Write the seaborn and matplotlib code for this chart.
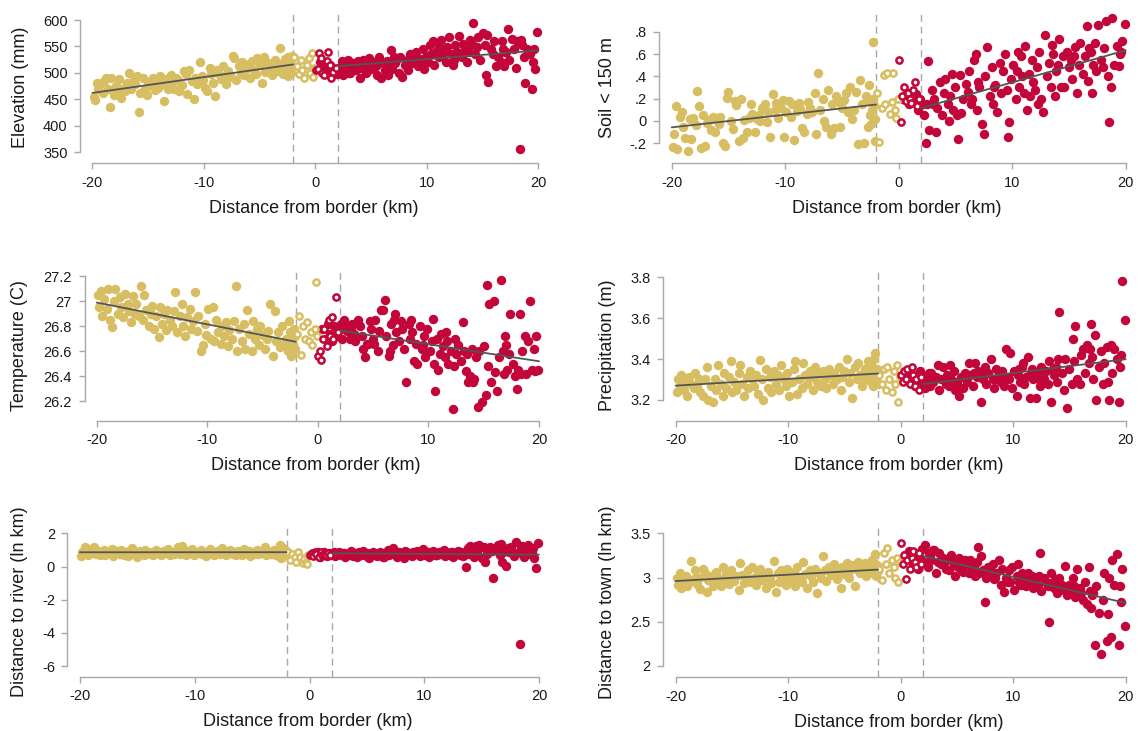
import numpy as np
import pandas as pd
import matplotlib
matplotlib.use("Agg")
import matplotlib.pyplot as plt
import seaborn as sns

# ---------------- data ----------------
# distance from border (km), shared by all panels
X_YEL = [
    -19.9, -19.8, -19.6, -19.5, -19.3, -19.1, -19.0, -18.8, -18.6, -18.4,
    -18.3, -18.1, -17.9, -17.8, -17.6, -17.4, -17.2, -17.1, -16.9, -16.7,
    -16.5, -16.4, -16.2, -16.0, -15.8, -15.7, -15.5, -15.3, -15.1, -15.0,
    -14.8, -14.6, -14.4, -14.3, -14.1, -13.9, -13.7, -13.6, -13.4, -13.2,
    -13.0, -12.9, -12.7, -12.5, -12.3, -12.2, -12.0, -11.8, -11.6, -11.5,
    -11.3, -11.1, -10.9, -10.8, -10.6, -10.4, -10.2, -10.1, -9.9, -9.7,
    -9.5, -9.4, -9.2, -9.0, -8.8, -8.7, -8.5, -8.3, -8.1, -8.0,
    -7.8, -7.6, -7.4, -7.3, -7.1, -6.9, -6.7, -6.6, -6.4, -6.2,
    -6.0, -5.9, -5.7, -5.5, -5.3, -5.2, -5.0, -4.8, -4.6, -4.5,
    -4.3, -4.1, -3.9, -3.8, -3.6, -3.4, -3.2, -3.1, -2.9, -2.7,
    -2.6, -2.55, -2.5, -2.45, -2.35, -2.3, -2.25, -2.15, -2.1, -2.05,
]
X_RED = [
    0.4, 0.7, 0.9, 1.1, 1.3, 1.5, 1.7, 1.9, 2.1, 2.2,
    2.4, 2.6, 2.7, 2.9, 3.1, 3.3, 3.4, 3.6, 3.8, 4.0,
    4.1, 4.3, 4.5, 4.7, 4.8, 5.0, 5.2, 5.4, 5.5, 5.7,
    5.9, 6.1, 6.2, 6.4, 6.6, 6.8, 6.9, 7.1, 7.3, 7.5,
    7.6, 7.8, 8.0, 8.2, 8.3, 8.5, 8.7, 8.9, 9.0, 9.2,
    9.4, 9.6, 9.7, 9.9, 10.1, 10.3, 10.4, 10.6, 10.8, 11.0,
    11.1, 11.3, 11.5, 11.7, 11.8, 12.0, 12.2, 12.4, 12.5, 12.7,
    12.9, 13.1, 13.2, 13.4, 13.6, 13.8, 13.9, 14.1, 14.3, 14.5,
    14.6, 14.8, 15.0, 15.2, 15.3, 15.5, 15.7, 15.9, 16.0, 16.2,
    16.4, 16.6, 16.7, 16.9, 17.1, 17.3, 17.4, 17.6, 17.8, 18.0,
    18.1, 18.3, 18.5, 18.7, 18.8, 19.0, 19.2, 19.4, 19.5, 19.7,
    19.9, 3.0, 5.1, 7.0, 9.5, 10.9, 12.3, 13.5, 15.4, 17.0,
    18.4, 19.6, 8.4, 10.5, 11.6, 14.0, 16.8, 6.5, 4.4, 2.5,
]
X_YEL_OPEN = [-1.9, -1.7, -1.5, -1.3, -1.2, -1.0, -0.8, -0.6, -0.5, -0.3, -0.2, -0.1]
X_RED_OPEN = [0.05, 0.2, 0.3, 0.5, 0.6, 0.8, 1.0, 1.1, 1.3, 1.4, 1.6, 1.8]

# Elevation (mm)
ELEV_YEL = [
    454, 448, 480, 470, 478, 462, 484, 490, 470, 436,
    490, 458, 475, 466, 488, 452, 472, 465, 480, 500,
    470, 485, 478, 494, 426, 462, 490, 470, 458, 482,
    476, 490, 468, 482, 472, 494, 478, 446, 488, 470,
    495, 482, 470, 490, 486, 466, 476, 503, 498, 460,
    505, 484, 450, 490, 478, 520, 494, 486, 472, 465,
    510, 498, 480, 456, 506, 500, 488, 512, 494, 478,
    504, 492, 532, 528, 486, 512, 500, 520, 496, 508,
    516, 490, 522, 506, 498, 528, 514, 480, 530, 502,
    518, 508, 496, 512, 524, 504, 547, 516, 498, 526,
    520, 510, 494, 530, 502, 518, 508, 500, 532, 512,
]
ELEV_RED = [
    520, 512, 498, 505, 515, 500, 508, 498, 510, 503,
    522, 515, 508, 525, 500, 512, 518, 505, 522, 490,
    510, 525, 500, 516, 528, 508, 520, 512, 495, 530,
    490, 518, 505, 523, 512, 543, 508, 518, 526, 500,
    530, 492, 514, 524, 506, 535, 518, 528, 540, 512,
    526, 545, 508, 530, 520, 552, 536, 515, 540, 555,
    530, 562, 545, 520, 548, 568, 535, 525, 552, 540,
    570, 530, 555, 545, 520, 540, 562, 595, 535, 548,
    568, 525, 575, 552, 495, 483, 545, 535, 560, 512,
    530, 520, 560, 512, 540, 583, 525, 565, 545, 510,
    560, 355, 552, 530, 480, 545, 535, 469, 520, 508,
    577, 500, 514, 530, 520, 534, 515, 548, 572, 540,
    563, 545, 522, 560, 540, 555, 545, 495, 505, 496,
]
ELEV_YEL_OPEN = [530, 512, 498, 524, 505, 490, 515, 528, 500, 538, 492, 510]
ELEV_RED_OPEN = [505, 508, 538, 528, 500, 496, 522, 540, 514, 491, 502, 510]

# Soil < 150 m
SOIL_YEL = [
    -0.23, -0.12, 0.13, -0.25, 0.04, 0.08, -0.05, -0.15, -0.27, 0.02,
    -0.16, 0.03, -0.04, 0.27, 0.13, -0.24, 0.05, -0.22, -0.02, 0.01,
    -0.08, 0.04, -0.10, 0.02, -0.03, 0.04, -0.20, -0.22, 0.21, 0.26,
    0.00, -0.07, 0.18, 0.14, -0.18, 0.20, -0.15, 0.01, -0.10, 0.03,
    0.15, 0.06, -0.10, 0.02, 0.05, 0.00, 0.12, 0.15, -0.01, 0.08,
    -0.14, 0.24, 0.10, 0.16, 0.03, 0.12, 0.19, -0.14, 0.08, 0.18,
    0.04, 0.15, -0.17, 0.09, 0.16, 0.11, -0.06, -0.10, 0.06, 0.17,
    0.12, 0.08, 0.25, -0.12, 0.43, 0.10, 0.20, 0.00, -0.05, 0.28,
    -0.12, 0.15, -0.06, 0.22, 0.17, -0.05, 0.12, 0.19, 0.25, 0.08,
    0.30, 0.02, 0.10, 0.26, -0.21, 0.37, 0.15, -0.20, 0.22, -0.05,
    0.32, 0.18, 0.05, -0.03, 0.10, 0.20, 0.71, 0.14, 0.02, -0.18,
]
SOIL_RED = [
    0.20, 0.25, 0.15, 0.22, 0.18, 0.24, 0.10, 0.20, 0.15, 0.05,
    -0.20, 0.54, -0.08, 0.28, 0.20, -0.10, 0.12, 0.35, 0.05, 0.25,
    0.38, 0.15, 0.22, 0.42, 0.10, 0.30, -0.16, 0.41, 0.07, 0.20,
    0.33, 0.26, 0.45, 0.15, 0.55, 0.60, 0.10, 0.30, -0.03, -0.12,
    0.40, 0.66, 0.22, 0.48, 0.15, 0.32, 0.08, 0.52, 0.25, 0.45,
    0.60, -0.14, -0.01, 0.38, 0.50, 0.20, 0.45, 0.30, 0.58, 0.25,
    0.67, 0.10, 0.42, 0.55, 0.35, 0.28, 0.48, 0.62, 0.20, 0.08,
    0.77, 0.40, 0.52, 0.30, 0.60, 0.22, 0.45, 0.73, 0.30, 0.58,
    0.30, 0.62, 0.48, 0.55, 0.38, 0.66, 0.25, 0.50, 0.70, 0.42,
    0.58, 0.85, 0.36, 0.62, 0.50, 0.70, 0.45, 0.86, 0.55, 0.48,
    0.65, 0.90, -0.01, 0.30, 0.92, 0.50, 0.67, 0.49, 0.60, 0.72,
    0.87, 0.15, 0.05, 0.35, 0.28, 0.40, 0.15, 0.68, 0.58, 0.25,
    0.40, 0.62, 0.30, 0.62, 0.22, 0.50, 0.65, 0.20, 0.00, 0.15,
]
SOIL_YEL_OPEN = [0.25, -0.19, 0.12, 0.41, 0.15, 0.43, 0.06, 0.17, 0.43, 0.10, 0.03, 0.20]
SOIL_RED_OPEN = [0.55, -0.01, 0.22, 0.30, 0.18, 0.25, 0.20, 0.16, 0.28, 0.35, 0.13, 0.20]

# Temperature (C)
TEMP_YEL = [
    27.05, 26.95, 27.08, 26.88, 27.02, 26.94, 27.10, 26.85, 26.79, 27.00,
    27.10, 26.90, 27.03, 26.95, 26.87, 27.06, 26.98, 26.92, 26.83, 27.04,
    26.90, 26.98, 26.88, 27.12, 26.85, 27.05, 26.93, 26.80, 26.90, 26.96,
    26.78, 26.88, 26.71, 26.95, 26.82, 26.90, 26.77, 26.93, 26.85, 26.80,
    26.92, 27.07, 26.75, 26.88, 26.98, 26.80, 26.72, 26.87, 26.94, 26.78,
    26.84, 27.07, 26.76, 26.88, 26.60, 26.65, 26.82, 26.73, 26.94, 26.70,
    26.95, 26.68, 26.85, 26.75, 26.66, 26.80, 26.72, 26.83, 26.64, 26.77,
    26.70, 26.84, 27.12, 26.60, 26.78, 26.68, 26.82, 26.62, 26.93, 26.74,
    26.60, 26.84, 26.70, 26.78, 26.65, 26.80, 26.73, 26.62, 26.70, 26.76,
    26.98, 26.56, 26.92, 26.68, 26.75, 26.63, 26.80, 26.66, 26.70, 26.60,
    26.84, 26.62, 26.75, 26.56, 26.70, 26.57, 26.66, 26.78, 26.62, 26.72,
]
TEMP_RED = [
    26.78, 26.70, 26.82, 26.74, 26.68, 26.80, 26.72, 26.77, 26.82, 26.70,
    26.85, 26.76, 26.80, 26.70, 26.82, 26.74, 26.68, 26.85, 26.80, 26.72,
    26.62, 26.55, 26.66, 26.84, 26.78, 26.70, 26.85, 26.60, 26.76, 26.93,
    26.93, 27.01, 26.72, 26.56, 26.82, 26.65, 26.85, 26.75, 26.68, 26.84,
    26.78, 26.62, 26.35, 26.82, 26.70, 26.75, 26.52, 26.66, 26.50, 26.80,
    26.62, 26.72, 26.55, 26.78, 26.60, 26.68, 26.86, 26.28, 26.70, 26.58,
    26.74, 26.64, 26.55, 26.68, 26.50, 26.60, 26.14, 26.70, 26.58, 26.65,
    26.52, 26.83, 26.60, 26.44, 26.35, 26.40, 26.62, 26.38, 26.55, 26.15,
    26.60, 26.19, 26.64, 26.25, 27.13, 26.98, 26.35, 27.00, 26.43, 26.28,
    26.55, 27.17, 26.60, 26.72, 26.45, 26.58, 26.90, 26.50, 26.40, 26.30,
    26.45, 26.90, 26.60, 26.72, 26.42, 26.68, 27.00, 26.45, 26.62, 26.72,
    26.45, 26.78, 26.66, 26.90, 26.65, 26.45, 26.48, 26.58, 26.48, 26.65,
    26.42, 26.44, 26.85, 26.50, 26.75, 26.35, 26.42, 26.60, 26.66, 26.78,
]
TEMP_YEL_OPEN = [26.74, 26.88, 26.57, 26.80, 26.70, 26.83, 26.68, 26.75, 26.65, 26.78, 27.15, 26.72]
TEMP_RED_OPEN = [26.56, 26.60, 26.53, 26.70, 26.78, 26.64, 26.85, 26.72, 26.87, 26.70, 27.03, 26.75]

# Precipitation (m)
PREC_YEL = [
    3.24, 3.30, 3.27, 3.32, 3.25, 3.29, 3.22, 3.31, 3.28, 3.26,
    3.33, 3.27, 3.30, 3.24, 3.22, 3.30, 3.36, 3.20, 3.27, 3.19,
    3.30, 3.25, 3.37, 3.28, 3.22, 3.33, 3.26, 3.31, 3.39, 3.24,
    3.29, 3.25, 3.33, 3.37, 3.28, 3.22, 3.31, 3.26, 3.34, 3.30,
    3.27, 3.32, 3.23, 3.395, 3.30, 3.20, 3.35, 3.26, 3.31, 3.24,
    3.34, 3.28, 3.32, 3.25, 3.37, 3.30, 3.27, 3.33, 3.22, 3.29,
    3.35, 3.39, 3.23, 3.30, 3.26, 3.38, 3.32, 3.28, 3.34, 3.31,
    3.25, 3.36, 3.29, 3.33, 3.27, 3.34, 3.30, 3.26, 3.35, 3.32,
    3.28, 3.33, 3.30, 3.36, 3.25, 3.31, 3.34, 3.40, 3.29, 3.33,
    3.21, 3.36, 3.30, 3.38, 3.32, 3.27, 3.35, 3.30, 3.39, 3.34,
    3.29, 3.36, 3.31, 3.27, 3.40, 3.33, 3.43, 3.30, 3.35, 3.28,
]
PREC_RED = [
    3.31, 3.33, 3.29, 3.32, 3.27, 3.30, 3.34, 3.28, 3.31, 3.26,
    3.30, 3.27, 3.33, 3.29, 3.31, 3.37, 3.25, 3.30, 3.36, 3.28,
    3.32, 3.27, 3.30, 3.34, 3.25, 3.29, 3.22, 3.31, 3.26, 3.33,
    3.29, 3.38, 3.32, 3.27, 3.38, 3.31, 3.34, 3.19, 3.30, 3.36,
    3.28, 3.33, 3.40, 3.30, 3.26, 3.35, 3.31, 3.29, 3.34, 3.27,
    3.45, 3.30, 3.43, 3.26, 3.34, 3.22, 3.32, 3.29, 3.36, 3.28,
    3.31, 3.41, 3.21, 3.35, 3.30, 3.21, 3.33, 3.27, 3.36, 3.30,
    3.34, 3.28, 3.39, 3.19, 3.32, 3.36, 3.29, 3.63, 3.33, 3.25,
    3.40, 3.16, 3.35, 3.28, 3.50, 3.56, 3.30, 3.28, 3.42, 3.45,
    3.33, 3.47, 3.38, 3.57, 3.30, 3.52, 3.20, 3.36, 3.44, 3.28,
    3.38, 3.46, 3.20, 3.47, 3.33, 3.45, 3.40, 3.19, 3.36, 3.78,
    3.59, 3.31, 3.27, 3.33, 3.31, 3.38, 3.30, 3.35, 3.39, 3.41,
    3.29, 3.42, 3.30, 3.35, 3.33, 3.40, 3.45, 3.33, 3.37, 3.33,
]
PREC_YEL_OPEN = [3.32, 3.28, 3.35, 3.25, 3.36, 3.30, 3.24, 3.34, 3.28, 3.37, 3.19, 3.31]
PREC_RED_OPEN = [3.32, 3.29, 3.34, 3.30, 3.35, 3.28, 3.36, 3.32, 3.27, 3.30, 3.25, 3.31]

# Distance to river (ln km)
RIVER_YEL = [
    0.62, 0.85, 1.15, 0.90, 0.70, 1.05, 0.80, 1.20, 0.75, 0.95,
    0.68, 0.88, 1.00, 0.72, 0.90, 0.80, 1.08, 0.65, 0.95, 0.85,
    0.78, 1.00, 0.70, 0.88, 0.62, 0.92, 1.10, 0.75, 0.85, 0.55,
    0.95, 0.80, 0.70, 1.00, 0.85, 0.75, 0.90, 0.68, 1.02, 0.80,
    0.88, 0.72, 0.95, 0.82, 1.05, 0.70, 0.90, 0.78, 0.85, 1.15,
    0.75, 1.25, 0.88, 0.70, 0.95, 0.80, 1.05, 0.72, 0.90, 0.82,
    1.00, 0.78, 0.88, 0.65, 0.92, 1.05, 0.80, 0.70, 0.95, 0.85,
    0.75, 1.10, 0.82, 0.68, 0.90, 1.00, 0.78, 0.88, 0.72, 0.95,
    0.85, 0.70, 1.05, 0.80, 0.92, 0.65, 0.88, 0.78, 1.00, 0.75,
    0.90, 0.82, 1.15, 0.70, 0.88, 0.78, 0.95, 1.00, 0.72, 0.85,
    0.60, 1.30, 0.80, 0.50, 1.10, 0.90, 0.70, 0.85, 1.00, 0.95,
]
RIVER_RED = [
    0.72, 0.85, 0.60, 0.78, 0.90, 0.65, 0.80, 0.70, 0.88, 0.62,
    0.75, 0.90, 0.68, 0.82, 0.55, 0.78, 0.70, 0.92, 0.65, 0.80,
    0.60, 0.85, 0.72, 0.95, 0.68, 0.80, 0.50, 0.75, 0.88, 0.70,
    0.65, 0.90, 0.78, 0.55, 0.82, 1.00, 0.70, 0.85, 1.10, 0.72,
    0.60, 0.90, 0.78, 0.50, 0.95, 0.70, 0.82, 0.62, 0.88, 0.75,
    0.92, 0.65, 0.78, 1.05, 0.70, 0.85, 0.60, 0.80, 0.95, 0.72,
    0.68, 0.88, 0.75, 1.00, 0.62, 0.82, 0.70, 0.90, 0.58, 0.80,
    0.95, 0.72, 0.85, 0.65, 0.00, 1.10, 0.78, 1.20, 0.60, 1.25,
    0.90, 1.30, 0.50, 1.15, 0.30, 0.75, 1.20, 0.95, -0.68, 1.00,
    1.30, 0.70, 1.35, 0.85, 0.02, 1.10, 0.90, 1.20, 0.65, 1.45,
    0.80, -4.69, 1.25, 0.60, 1.00, 1.30, 0.75, 0.90, 1.10, -0.11,
    1.40, 0.80, 0.60, 0.90, 0.78, 0.68, 0.85, 0.72, 1.05, 0.95,
    1.15, 0.50, 0.85, 0.70, 0.95, 1.25, 0.30, 0.60, 0.82, 0.78,
]
RIVER_YEL_OPEN = [0.90, 0.40, 0.75, 0.55, 0.30, 0.85, 0.60, 0.20, 0.45, 0.25, 0.15, 0.70]
RIVER_RED_OPEN = [0.70, 0.80, 0.65, 0.90, 0.75, 0.60, 0.85, 0.70, 0.78, 0.68, 0.82, 0.72]

# Distance to town (ln km)
TOWN_YEL = [
    3.00, 2.92, 3.05, 2.88, 2.96, 3.02, 2.90, 2.95, 3.19, 2.98,
    3.08, 2.93, 3.00, 2.87, 3.10, 3.05, 2.84, 2.97, 3.02, 2.90,
    2.95, 3.06, 3.00, 2.90, 3.12, 2.98, 3.04, 2.93, 3.08, 3.00,
    2.96, 3.02, 2.86, 3.17, 3.03, 2.94, 3.00, 3.08, 2.95, 3.12,
    3.00, 2.92, 3.05, 3.10, 2.97, 3.02, 2.88, 3.06, 3.00, 2.94,
    3.19, 2.84, 3.05, 2.95, 3.08, 3.00, 2.92, 3.10, 3.03, 2.97,
    3.06, 2.90, 3.12, 3.00, 2.95, 3.18, 3.04, 2.88, 3.08, 3.02,
    2.95, 3.10, 2.82, 3.05, 3.00, 3.24, 3.08, 2.96, 3.12, 3.03,
    3.10, 3.15, 2.98, 3.06, 2.88, 3.12, 3.04, 3.16, 3.00, 3.08,
    3.14, 2.90, 3.10, 3.18, 3.05, 3.12, 3.16, 3.02, 3.10, 3.15,
    3.08, 3.20, 3.12, 3.05, 3.16, 3.10, 3.27, 3.02, 3.14, 3.07,
]
TOWN_RED = [
    3.25, 3.30, 3.20, 3.15, 3.28, 3.10, 3.22, 3.32, 3.18, 3.37,
    3.12, 3.25, 3.20, 3.31, 3.05, 3.18, 3.28, 3.15, 3.22, 3.10,
    3.20, 3.08, 3.25, 3.14, 3.02, 3.18, 3.22, 3.10, 3.06, 3.20,
    3.15, 3.05, 3.20, 3.10, 3.02, 3.18, 3.34, 3.24, 3.08, 2.72,
    3.00, 3.12, 3.06, 3.15, 2.98, 3.05, 3.20, 2.92, 3.10, 2.84,
    3.00, 3.08, 2.95, 3.12, 2.86, 3.02, 3.15, 2.92, 3.05, 2.98,
    2.90, 3.05, 2.95, 3.02, 2.88, 3.00, 2.92, 3.28, 2.85, 3.00,
    2.95, 2.90, 2.50, 3.05, 2.88, 2.98, 2.82, 3.00, 2.92, 2.86,
    3.13, 2.80, 2.92, 2.85, 3.00, 2.78, 3.10, 2.88, 2.82, 2.75,
    2.95, 2.70, 3.12, 2.65, 2.82, 2.24, 2.90, 2.60, 2.14, 2.75,
    3.05, 2.28, 3.00, 2.33, 3.20, 2.92, 3.27, 2.24, 2.90, 3.10,
    2.45, 3.31, 3.12, 3.05, 2.95, 2.92, 3.02, 2.95, 2.90, 2.80,
    2.59, 2.72, 3.00, 2.95, 2.98, 2.90, 2.85, 3.12, 3.22, 3.28,
]
TOWN_YEL_OPEN = [3.10, 2.97, 3.28, 3.15, 3.33, 3.05, 3.20, 3.12, 3.00, 3.22, 2.95, 3.18]
TOWN_RED_OPEN = [3.39, 3.15, 3.25, 2.98, 3.20, 3.10, 3.22, 3.30, 3.18, 3.12, 3.28, 3.15]

X_TICKS = [-20, -10, 0, 10, 20]
X_TICKLABELS = ["-20", "-10", "0", "10", "20"]
X_LABEL = "Distance from border (km)"

PANELS = [
    dict(ylabel="Elevation (mm)", data=(ELEV_YEL, ELEV_RED, ELEV_YEL_OPEN, ELEV_RED_OPEN),
         yticks=[350, 400, 450, 500, 550, 600],
         yticklabels=["350", "400", "450", "500", "550", "600"]),
    dict(ylabel="Soil < 150 m", data=(SOIL_YEL, SOIL_RED, SOIL_YEL_OPEN, SOIL_RED_OPEN),
         yticks=[-0.2, 0, 0.2, 0.4, 0.6, 0.8],
         yticklabels=["-.2", "0", ".2", ".4", ".6", ".8"]),
    dict(ylabel="Temperature (C)", data=(TEMP_YEL, TEMP_RED, TEMP_YEL_OPEN, TEMP_RED_OPEN),
         yticks=[26.2, 26.4, 26.6, 26.8, 27.0, 27.2],
         yticklabels=["26.2", "26.4", "26.6", "26.8", "27", "27.2"]),
    dict(ylabel="Precipitation (m)", data=(PREC_YEL, PREC_RED, PREC_YEL_OPEN, PREC_RED_OPEN),
         yticks=[3.2, 3.4, 3.6, 3.8],
         yticklabels=["3.2", "3.4", "3.6", "3.8"]),
    dict(ylabel="Distance to river (ln km)", data=(RIVER_YEL, RIVER_RED, RIVER_YEL_OPEN, RIVER_RED_OPEN),
         yticks=[-6, -4, -2, 0, 2],
         yticklabels=["-6", "-4", "-2", "0", "2"]),
    dict(ylabel="Distance to town (ln km)", data=(TOWN_YEL, TOWN_RED, TOWN_YEL_OPEN, TOWN_RED_OPEN),
         yticks=[2, 2.5, 3, 3.5],
         yticklabels=["2", "2.5", "3", "3.5"]),
]

# ---------------- layout / style ----------------
YEL = "#D8BE62"
RED = "#C2063A"
FIT = "#555555"
GRID = "#A8A8A8"
TXT = "#1a1a1a"

W, H = 1140, 731
# (left px, width px, top px, bottom px, ylim, ylabel centre x px)
GEOM = [
    (80.2, 467.2, 12.0, 163.3, (328.6, 615.2), 20),
    (659.2, 475.6, 11.7, 163.3, (-0.379, 0.979), 607),
    (84.5, 463.4, 269.3, 421.0, (26.04, 27.254), 20),
    (663.3, 471.4, 269.3, 421.0, (3.097, 3.839), 607),
    (67.4, 480.8, 526.7, 677.0, (-6.66, 2.40), 20),
    (663.3, 471.4, 526.7, 677.3, (1.872, 3.575), 607),
]

sns.set_theme(style="white")
plt.rcParams["font.family"] = ["Liberation Sans", "DejaVu Sans"]
plt.rcParams["axes.unicode_minus"] = False

fig = plt.figure(figsize=(W / 100, H / 100), dpi=100)

for panel, (lpx, wpx, tpx, bpx, ylim, labx) in zip(PANELS, GEOM):
    ax = fig.add_axes([lpx / W, (H - bpx) / H, wpx / W, (bpx - tpx) / H])
    y_yel, y_red, y_yo, y_ro = panel["data"]
    dy = pd.DataFrame({"x": X_YEL, "y": y_yel})
    dr = pd.DataFrame({"x": X_RED, "y": y_red})
    dyo = pd.DataFrame({"x": X_YEL_OPEN, "y": y_yo})
    dro = pd.DataFrame({"x": X_RED_OPEN, "y": y_ro})

    for xv in (-2, 2):
        ax.axvline(xv, color=GRID, lw=1.0, ls=(0, (5, 3.5)), zorder=0.5)

    sns.scatterplot(data=dy, x="x", y="y", color=YEL, s=46, linewidth=0, ax=ax, zorder=2)
    sns.scatterplot(data=dr, x="x", y="y", color=RED, s=46, linewidth=0, ax=ax, zorder=2)
    sns.scatterplot(data=dyo, x="x", y="y", facecolor="white", edgecolor=YEL,
                    s=20, linewidth=1.8, ax=ax, zorder=3)
    sns.scatterplot(data=dro, x="x", y="y", facecolor="white", edgecolor=RED,
                    s=20, linewidth=1.8, ax=ax, zorder=3)

    # linear fits on each side (outside the 2 km band)
    sel = dy[dy.x <= -2]
    b1, a1 = np.polyfit(sel.x, sel.y, 1)
    ax.plot([-20, -2], [a1 + b1 * -20, a1 + b1 * -2], color=FIT, lw=1.3, zorder=4)
    sel = dr[dr.x >= 2]
    b2, a2 = np.polyfit(sel.x, sel.y, 1)
    ax.plot([2, 20], [a2 + b2 * 2, a2 + b2 * 20], color=FIT, lw=1.3, zorder=4)

    ax.set_xlim(-21.1, 20.8)
    ax.set_ylim(*ylim)
    ax.set_xticks(X_TICKS)
    ax.set_xticklabels(X_TICKLABELS)
    ax.set_yticks(panel["yticks"])
    ax.set_yticklabels(panel["yticklabels"])
    for side in ("top", "right"):
        ax.spines[side].set_visible(False)
    ax.spines["left"].set_bounds(panel["yticks"][0], panel["yticks"][-1])
    ax.spines["bottom"].set_bounds(X_TICKS[0], X_TICKS[-1])
    for side in ("left", "bottom"):
        ax.spines[side].set_color(GRID)
        ax.spines[side].set_linewidth(1.0)
    ax.tick_params(axis="both", which="major", direction="out", length=4.5, width=1.0,
                   color=GRID, labelsize=10.5, labelcolor=TXT, pad=4.5,
                   left=True, bottom=True)
    ax.set_xlabel(X_LABEL, fontsize=13, color=TXT, labelpad=7)
    ax.set_ylabel(panel["ylabel"], fontsize=13, color=TXT, va="center")
    ax.yaxis.set_label_coords((labx - lpx) / wpx, 0.5)
    ax.set_facecolor("white")

fig.savefig("out.png", dpi=100, facecolor="white")
